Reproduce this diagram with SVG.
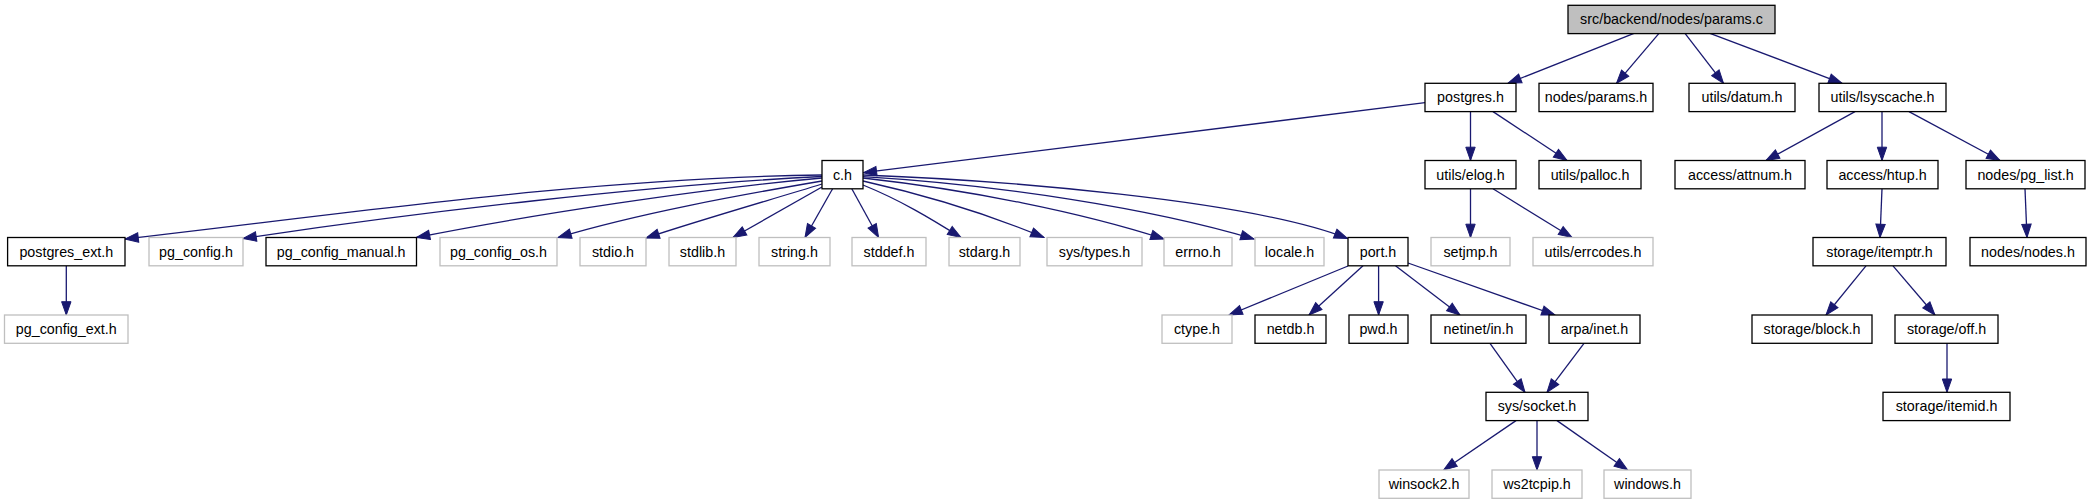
<svg xmlns="http://www.w3.org/2000/svg" width="2091" height="504" viewBox="0 0 2091 504">
<style>
.bg{fill:#ffffff}
.node rect{fill:#ffffff;stroke:#000000;stroke-width:1.3}
.node.gray rect{stroke:#bfbfbf}
.node.root rect{fill:#bfbfbf;stroke:#000000}
.node text{font-family:"Liberation Sans",Arial,sans-serif;font-size:14.3px;fill:#000000;text-anchor:middle}
.edges path{fill:none;stroke:#191970;stroke-width:1.3;marker-end:url(#arr)}
</style>
<defs>
<marker id="arr" markerUnits="userSpaceOnUse" markerWidth="14" markerHeight="10" viewBox="-14 -5 14 10" refX="0" refY="0" orient="auto" overflow="visible">
<path d="M-13.3,-4.7 L0,0 L-13.3,4.7 Z" fill="#191970" stroke="#191970" stroke-width="1"/>
</marker>
</defs>
<rect class="bg" x="0" y="0" width="2091" height="504"/>
<g class="edges">
<path d="M1634,33.3 L1508,83.3"/>
<path d="M1659,33.3 L1616.5,83.3"/>
<path d="M1685,33.3 L1723.5,83.3"/>
<path d="M1710,33.3 L1842,83.3"/>
<path d="M1425,102.7 L863.3,172.7"/>
<path d="M1470.5,111.6 L1470.5,160.5"/>
<path d="M1493,111.6 L1567,160.5"/>
<path d="M1855,111.6 L1766,160.5"/>
<path d="M1882,111.6 L1882,160.5"/>
<path d="M1909,111.6 L2000,160.5"/>
<path d="M822,175 C590,178 360,212 125,239"/>
<path d="M822,176.5 C650,185 420,212 243,238.5"/>
<path d="M822,178 C700,189 530,215 416.5,237.5"/>
<path d="M822,181 C740,195 640,213 558,237.5"/>
<path d="M822,184 C770,200 700,220 646,238"/>
<path d="M822,187 L733,237.5"/>
<path d="M832.6,188.8 L805,237.5"/>
<path d="M851.8,188.8 L878.6,237.5"/>
<path d="M863,185 C900,200 930,218 961,237.5"/>
<path d="M863,181 C930,196 990,215 1044,237.5"/>
<path d="M863,178 C970,190 1080,212 1164,239"/>
<path d="M863,176.7 C1000,185 1150,208 1254,239"/>
<path d="M863,175 C1000,180 1250,200 1347.5,238.5"/>
<path d="M66.3,265.8 L66.3,315"/>
<path d="M1470.5,188.8 L1470.5,237.5"/>
<path d="M1493,188.8 L1572,237.5"/>
<path d="M1882,188.8 L1880,237.5"/>
<path d="M2025,188.8 L2027,237.5"/>
<path d="M1348,266 L1229,315"/>
<path d="M1363,265.8 L1309,315"/>
<path d="M1378.6,265.8 L1378.6,315"/>
<path d="M1395.5,265.8 L1460,315"/>
<path d="M1408,263 L1555,315"/>
<path d="M1866,265.8 L1826,315"/>
<path d="M1893,265.8 L1935,315"/>
<path d="M1490,343.3 L1525,392.3"/>
<path d="M1584,343.3 L1547,392.3"/>
<path d="M1947,343.3 L1947,392.3"/>
<path d="M1516,420.6 L1443.7,470"/>
<path d="M1537,420.6 L1537,470"/>
<path d="M1557,420.6 L1627.6,470"/>
</g>
<g id="n0" class="node root"><rect x="1568" y="5.3" width="207" height="28.3"/><text x="1671.5" y="24.3">src/backend/nodes/params.c</text></g>
<g id="n1" class="node"><rect x="1425" y="83.3" width="91" height="28.3"/><text x="1470.5" y="102.3">postgres.h</text></g>
<g id="n2" class="node"><rect x="1539" y="83.3" width="114" height="28.3"/><text x="1596" y="102.3">nodes/params.h</text></g>
<g id="n3" class="node"><rect x="1689" y="83.3" width="106" height="28.3"/><text x="1742" y="102.3">utils/datum.h</text></g>
<g id="n4" class="node"><rect x="1819" y="83.3" width="127" height="28.3"/><text x="1882.5" y="102.3">utils/lsyscache.h</text></g>
<g id="n5" class="node"><rect x="822" y="160.5" width="41" height="28.3"/><text x="842.5" y="179.5">c.h</text></g>
<g id="n6" class="node"><rect x="1425" y="160.5" width="91" height="28.3"/><text x="1470.5" y="179.5">utils/elog.h</text></g>
<g id="n7" class="node"><rect x="1539" y="160.5" width="102" height="28.3"/><text x="1590" y="179.5">utils/palloc.h</text></g>
<g id="n8" class="node"><rect x="1675" y="160.5" width="130" height="28.3"/><text x="1740" y="179.5">access/attnum.h</text></g>
<g id="n9" class="node"><rect x="1827" y="160.5" width="111" height="28.3"/><text x="1882.5" y="179.5">access/htup.h</text></g>
<g id="n10" class="node"><rect x="1966" y="160.5" width="119" height="28.3"/><text x="2025.5" y="179.5">nodes/pg_list.h</text></g>
<g id="n11" class="node"><rect x="7.6" y="237.5" width="117.4" height="28.3"/><text x="66.3" y="256.5">postgres_ext.h</text></g>
<g id="n12" class="node gray"><rect x="149" y="237.5" width="94" height="28.3"/><text x="196" y="256.5">pg_config.h</text></g>
<g id="n13" class="node"><rect x="266" y="237.5" width="150.5" height="28.3"/><text x="341.2" y="256.5">pg_config_manual.h</text></g>
<g id="n14" class="node gray"><rect x="440" y="237.5" width="117" height="28.3"/><text x="498.5" y="256.5">pg_config_os.h</text></g>
<g id="n15" class="node gray"><rect x="580" y="237.5" width="66" height="28.3"/><text x="613" y="256.5">stdio.h</text></g>
<g id="n16" class="node gray"><rect x="669" y="237.5" width="67" height="28.3"/><text x="702.5" y="256.5">stdlib.h</text></g>
<g id="n17" class="node gray"><rect x="759" y="237.5" width="71" height="28.3"/><text x="794.5" y="256.5">string.h</text></g>
<g id="n18" class="node gray"><rect x="852" y="237.5" width="74" height="28.3"/><text x="889" y="256.5">stddef.h</text></g>
<g id="n19" class="node gray"><rect x="949" y="237.5" width="71" height="28.3"/><text x="984.5" y="256.5">stdarg.h</text></g>
<g id="n20" class="node gray"><rect x="1047" y="237.5" width="95" height="28.3"/><text x="1094.5" y="256.5">sys/types.h</text></g>
<g id="n21" class="node gray"><rect x="1164" y="237.5" width="68" height="28.3"/><text x="1198" y="256.5">errno.h</text></g>
<g id="n22" class="node gray"><rect x="1255" y="237.5" width="69" height="28.3"/><text x="1289.5" y="256.5">locale.h</text></g>
<g id="n23" class="node"><rect x="1348" y="237.5" width="60" height="28.3"/><text x="1378" y="256.5">port.h</text></g>
<g id="n24" class="node gray"><rect x="1431" y="237.5" width="79" height="28.3"/><text x="1470.5" y="256.5">setjmp.h</text></g>
<g id="n25" class="node gray"><rect x="1533" y="237.5" width="120" height="28.3"/><text x="1593" y="256.5">utils/errcodes.h</text></g>
<g id="n26" class="node"><rect x="1813" y="237.5" width="133" height="28.3"/><text x="1879.5" y="256.5">storage/itemptr.h</text></g>
<g id="n27" class="node"><rect x="1970" y="237.5" width="116" height="28.3"/><text x="2028" y="256.5">nodes/nodes.h</text></g>
<g id="n28" class="node gray"><rect x="4.5" y="315" width="123.5" height="28.3"/><text x="66.3" y="334">pg_config_ext.h</text></g>
<g id="n29" class="node gray"><rect x="1162" y="315" width="70" height="28.3"/><text x="1197" y="334">ctype.h</text></g>
<g id="n30" class="node"><rect x="1255" y="315" width="71" height="28.3"/><text x="1290.5" y="334">netdb.h</text></g>
<g id="n31" class="node"><rect x="1349" y="315" width="59" height="28.3"/><text x="1378.5" y="334">pwd.h</text></g>
<g id="n32" class="node"><rect x="1431" y="315" width="95" height="28.3"/><text x="1478.5" y="334">netinet/in.h</text></g>
<g id="n33" class="node"><rect x="1549" y="315" width="91" height="28.3"/><text x="1594.5" y="334">arpa/inet.h</text></g>
<g id="n34" class="node"><rect x="1752" y="315" width="120" height="28.3"/><text x="1812" y="334">storage/block.h</text></g>
<g id="n35" class="node"><rect x="1895" y="315" width="103" height="28.3"/><text x="1946.5" y="334">storage/off.h</text></g>
<g id="n36" class="node"><rect x="1486" y="392.3" width="102" height="28.3"/><text x="1537" y="411.3">sys/socket.h</text></g>
<g id="n37" class="node"><rect x="1883" y="392.3" width="127" height="28.3"/><text x="1946.5" y="411.3">storage/itemid.h</text></g>
<g id="n38" class="node gray"><rect x="1379" y="470" width="90" height="28.3"/><text x="1424" y="489">winsock2.h</text></g>
<g id="n39" class="node gray"><rect x="1492" y="470" width="90" height="28.3"/><text x="1537" y="489">ws2tcpip.h</text></g>
<g id="n40" class="node gray"><rect x="1604" y="470" width="87" height="28.3"/><text x="1647.5" y="489">windows.h</text></g>
</svg>
